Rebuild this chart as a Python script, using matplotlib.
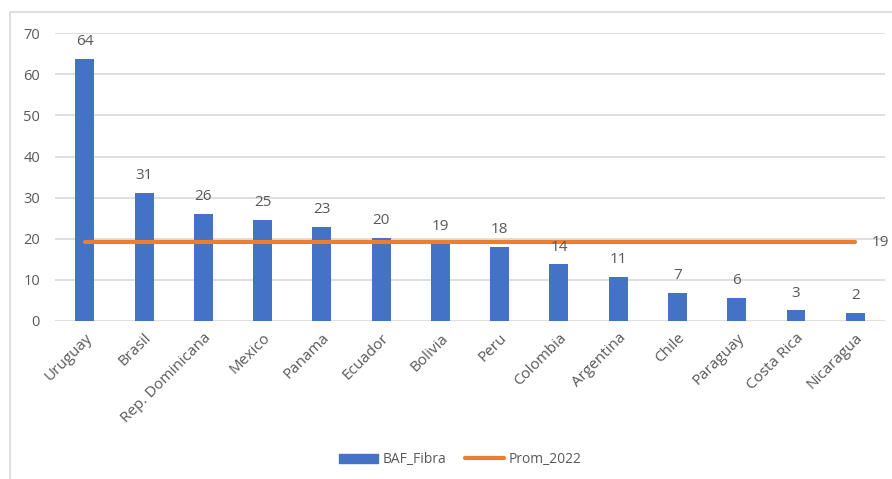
import matplotlib.pyplot as plt
from matplotlib.patches import Rectangle
from matplotlib.lines import Line2D
from matplotlib.patches import Patch

countries = ["Uruguay", "Brasil", "Rep. Dominicana", "Mexico", "Panama", "Ecuador",
             "Bolivia", "Peru", "Colombia", "Argentina", "Chile", "Paraguay",
             "Costa Rica", "Nicaragua"]
baf_fibra = [63.7, 31.1, 26.0, 24.6, 22.9, 20.3, 18.8, 18.0, 13.8, 10.8, 6.8, 5.7, 2.6, 1.9]
prom_2022 = 19.1

blue = "#4472C4"
orange = "#ED7D31"
grey_txt = "#595959"
grid_c = "#D9D9D9"

plt.rcParams["font.family"] = ["Open Sans", "DejaVu Sans"]

fig = plt.figure(figsize=(8.92, 4.79), dpi=100)
ax = fig.add_axes([0.062, 0.33, 0.930, 0.6005])

x = list(range(len(countries)))
ax.bar(x, baf_fibra, width=0.32, color=blue, zorder=2)
ax.plot(x, [prom_2022] * len(x), color=orange, lw=3, solid_capstyle="round", zorder=3)

for xi, v in zip(x, baf_fibra):
    ax.annotate(f"{v:.0f}", (xi, v), xytext=(0, 7), textcoords="offset points",
                ha="center", va="bottom", fontsize=11, color=grey_txt)
ax.annotate(f"{prom_2022:.0f}", (x[-1], prom_2022), xytext=(12, 0),
            textcoords="offset points", ha="left", va="center",
            fontsize=11, color=grey_txt)

ax.set_xlim(-0.5, len(countries) - 0.5)
ax.set_ylim(0, 70)
ax.set_yticks(range(0, 71, 10))
ax.yaxis.grid(True, color=grid_c, lw=1.2, zorder=0)
ax.set_axisbelow(True)
for s in ax.spines.values():
    s.set_visible(False)

ax.set_xticks(x)
ax.set_xticklabels(countries, rotation=45, ha="right", rotation_mode="anchor")
ax.tick_params(axis="both", length=0, labelcolor=grey_txt)
ax.tick_params(axis="y", pad=11, labelsize=10.5)
ax.tick_params(axis="x", pad=7, labelsize=11)

handles = [Patch(color=blue, label="BAF_Fibra"),
           Line2D([], [], color=orange, lw=3, solid_capstyle="round", label="Prom_2022")]
fig.legend(handles=handles, loc="center", bbox_to_anchor=(0.516, 0.04), ncol=2,
           frameon=False, fontsize=10, labelcolor=grey_txt, handlelength=2.8,
           handletextpad=0.3, columnspacing=1.4)

# light frame around the chart area
fig.patches.append(Rectangle((0.0112, -0.01), 1.1, 0.985, transform=fig.transFigure,
                             fill=False, edgecolor=grid_c, lw=1.2))

fig.savefig("out.png", dpi=100)
